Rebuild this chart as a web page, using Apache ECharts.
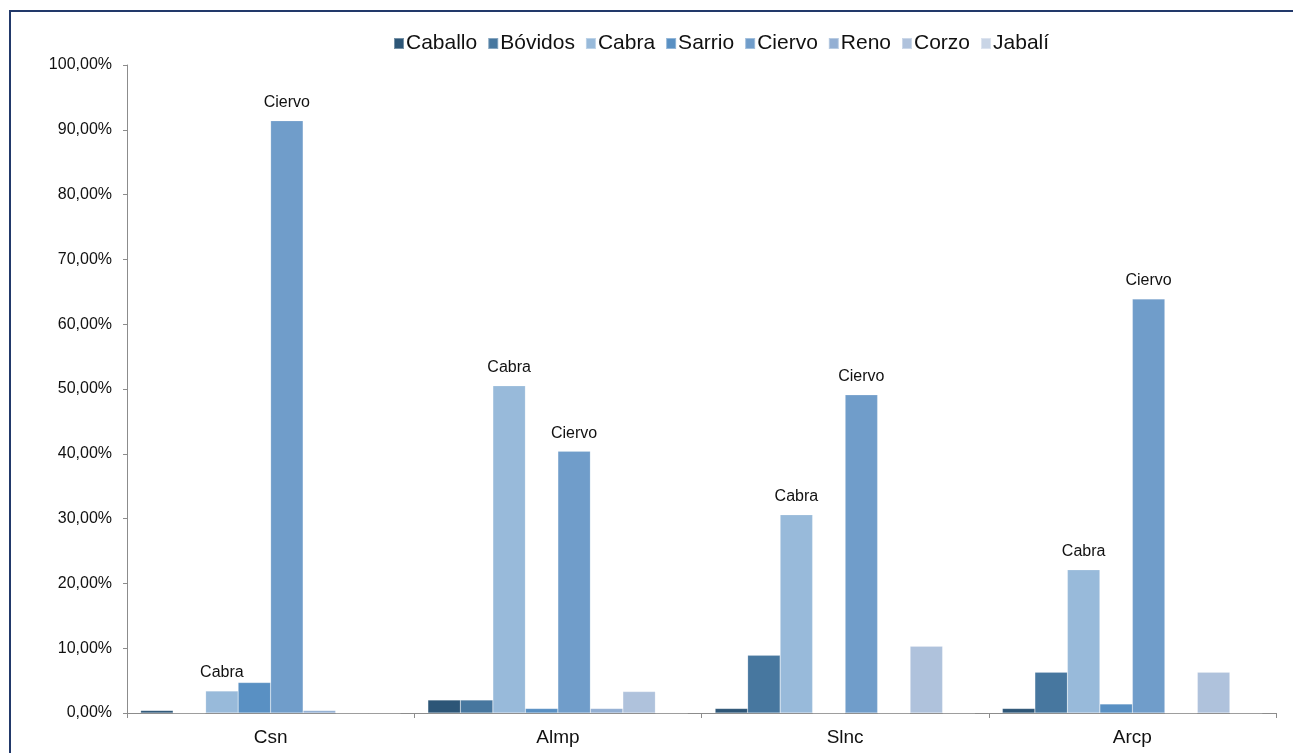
<!DOCTYPE html>
<html>
<head>
<meta charset="utf-8">
<script src="https://cdn.jsdelivr.net/npm/echarts@6/dist/echarts.min.js"></script>
<style>
  html, body { margin: 0; padding: 0; background: #fff; }
  #chart { width: 1293px; height: 753px; }
</style>
</head>
<body>
<div id="chart"></div>
<script>
// Sites (x-axis categories)
const categories = ['Csn', 'Almp', 'Slnc', 'Arcp'];

// Percentage of remains per taxon at each site
const caballo = [0.4, 2.0, 0.7, 0.7];
const bovidos = [0, 2.0, 8.9, 6.3];
const cabra   = [3.4, 50.5, 30.6, 22.1];
const sarrio  = [4.7, 0.7, 0, 1.4];
const ciervo  = [91.4, 40.4, 49.1, 63.9];
const reno    = [0.4, 0.7, 0, 0];
const corzo   = [0, 3.3, 10.3, 6.3];
const jabali  = [0, 0, 0, 0];

const seriesNames = ['Caballo', 'Bóvidos', 'Cabra', 'Sarrio', 'Ciervo', 'Reno', 'Corzo', 'Jabalí'];
const seriesValues = [caballo, bovidos, cabra, sarrio, ciervo, reno, corzo, jabali];
const seriesColors = ['#2d5677', '#47779f', '#98bada', '#5990c3', '#709dca', '#93afd3', '#afc2dc', '#c9d5e6'];
const labelledSeries = ['Cabra', 'Ciervo'];

const FONT = '"Liberation Sans", Arial, Helvetica, sans-serif';

const chart = echarts.init(document.getElementById('chart'));

chart.setOption({
  animation: false,
  backgroundColor: '#ffffff',
  textStyle: { fontFamily: FONT },
  graphic: [{
    type: 'rect',
    shape: { x: 10, y: 11, width: 1300, height: 760 },
    style: { fill: 'none', stroke: '#22396a', lineWidth: 2 },
    silent: true,
    z: 0
  }],
  legend: {
    top: 28,
    left: 388,
    itemWidth: 10,
    itemHeight: 11,
    itemGap: 10,
    icon: 'rect',
    textStyle: { fontSize: 21, color: '#111', fontFamily: FONT, padding: [0, 0, 0, -3] },
    data: seriesNames
  },
  grid: { left: 127, right: 17, top: 65, bottom: 40, containLabel: false },
  xAxis: {
    type: 'category',
    data: categories,
    axisLine: { lineStyle: { color: '#8c8c8c', width: 1 } },
    axisTick: { show: true, length: 5, alignWithLabel: false, lineStyle: { color: '#8c8c8c' } },
    axisLabel: { fontSize: 19, color: '#111', margin: 15, fontFamily: FONT },
    splitLine: { show: false }
  },
  yAxis: {
    type: 'value',
    min: 0,
    max: 100,
    interval: 10,
    axisLine: { show: true, lineStyle: { color: '#8c8c8c', width: 1 } },
    axisTick: { show: true, length: 4, inside: false, lineStyle: { color: '#8c8c8c' } },
    axisLabel: {
      fontSize: 16,
      color: '#111',
      margin: 15,
      fontFamily: FONT,
      formatter: v => v.toFixed(2).replace('.', ',') + '%'
    },
    splitLine: { show: false }
  },
  series: seriesNames.map((name, i) => ({
    name: name,
    type: 'bar',
    data: seriesValues[i],
    barGap: '0%',
    barCategoryGap: '9.5%',
    itemStyle: { color: seriesColors[i], borderColor: 'rgba(255,255,255,0.35)', borderWidth: 0.5 },
    label: {
      show: labelledSeries.includes(name),
      position: 'top',
      distance: 10,
      formatter: '{a}',
      fontSize: 16,
      color: '#111',
      fontFamily: FONT
    }
  }))
});
</script>
</body>
</html>
